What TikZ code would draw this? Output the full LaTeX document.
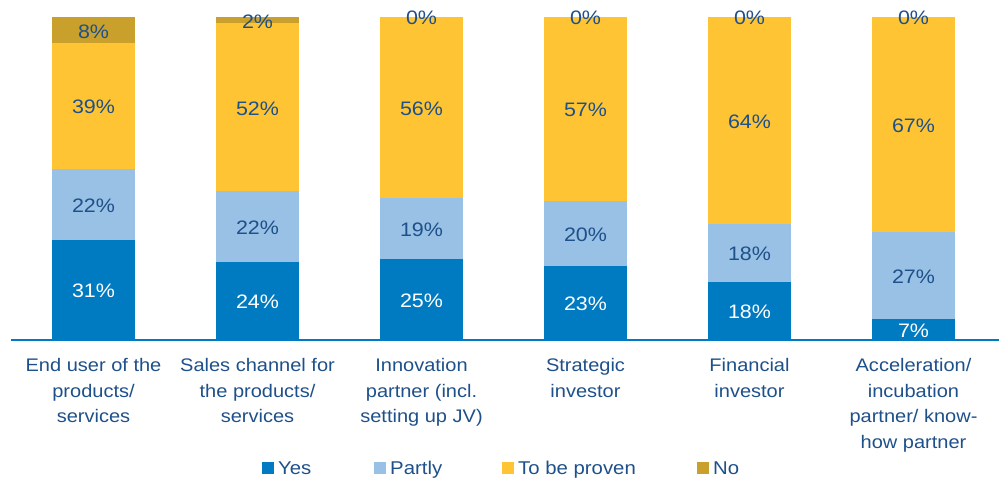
\documentclass[tikz,border=0pt]{standalone}
\usepackage{fontspec}
\setmainfont{Liberation Sans}[FakeStretch=1.1]
\definecolor{yesc}{RGB}{0,122,192}
\definecolor{partlyc}{RGB}{153,193,230}
\definecolor{provenc}{RGB}{255,196,51}
\definecolor{noc}{RGB}{201,160,44}
\definecolor{textc}{RGB}{30,80,138}
\tikzset{
  pct/.style={font=\fontsize{19.5}{21}\selectfont, text=textc, inner sep=0pt},
  pctw/.style={pct, text=white},
  catlabel/.style={font=\fontsize{18.2}{25.4}\selectfont, text=textc, align=center, inner sep=0pt, anchor=north},
  legsq/.style={minimum size=12pt, inner sep=0pt, anchor=south west},
  legtxt/.style={font=\fontsize{18.5}{20}\selectfont, text=textc, inner sep=0pt, anchor=base west}
}
\begin{document}
\begin{tikzpicture}[x=1pt,y=-1pt]
\useasboundingbox (0,0) rectangle (999,477);
\foreach \i/\cx/\a/\b/\c/\d/\la/\lb/\lc/\ld/\ny in {
  1/93.5/31/22/39/8/31/22/39/8/32,
  2/257.5/24/22/52/2/24/22/52/2/21.5,
  3/421.5/25/19/56/0/25/19/56/0/18,
  4/585.5/23/20/57/0/23/20/57/0/18,
  5/749.5/18/18/64/0/18/18/64/0/18,
  6/913.5/6.6/26.8/66.6/0/7/27/67/0/18}{
  \pgfmathsetmacro\ya{340-\a*3.23}
  \pgfmathsetmacro\yb{\ya-\b*3.23}
  \pgfmathsetmacro\yc{\yb-\c*3.23}
  \pgfmathsetmacro\yd{\yc-\d*3.23}
  \pgfmathsetmacro\xl{\cx-41.5}
  \pgfmathsetmacro\xr{\cx+41.5}
  \fill[yesc] (\xl,340) rectangle (\xr,\ya);
  \fill[partlyc] (\xl,\ya) rectangle (\xr,\yb);
  \fill[provenc] (\xl,\yb) rectangle (\xr,\yc);
  \ifdim\d pt>0pt
    \fill[noc] (\xl,\yc) rectangle (\xr,\yd);
  \fi
  \node[pctw] (ly\i) at (\cx,{(340+\ya)/2+1}) {\la\%};
  \node[pct] (lp\i) at (\cx,{(\ya+\yb)/2+1}) {\lb\%};
  \node[pct] (lt\i) at (\cx,{(\yb+\yc)/2+1}) {\lc\%};
  \node[pct] (ln\i) at (\cx,\ny) {\ld\%};
}
\coordinate (axL) at (11,340);
\coordinate (axR) at (999,340);
\draw[yesc, line width=1.5pt] (axL) -- (axR);
\node[catlabel] (c1) at (93.5,358.5) {End user of the\\products/\\services};
\node[catlabel] (c2) at (257.5,358.5) {Sales channel for\\the products/\\services};
\node[catlabel] (c3) at (421.5,358.5) {Innovation\\partner (incl.\\setting up JV)};
\node[catlabel] (c4) at (585.5,358.5) {Strategic\\investor};
\node[catlabel] (c5) at (749.5,358.5) {Financial\\investor};
\node[catlabel] (c6) at (913.5,358.5) {Acceleration/\\incubation\\partner/ know-\\how partner};
\node[legsq, fill=yesc] (s1) at (262,474) {};
\node[legtxt] (t1) at (278,474) {Yes};
\node[legsq, fill=partlyc] (s2) at (374,474) {};
\node[legtxt] (t2) at (390,474) {Partly};
\node[legsq, fill=provenc] (s3) at (502,474) {};
\node[legtxt] (t3) at (518,474) {To be proven};
\node[legsq, fill=noc] (s4) at (697,474) {};
\node[legtxt] (t4) at (713,474) {No};
\end{tikzpicture}
\end{document}
